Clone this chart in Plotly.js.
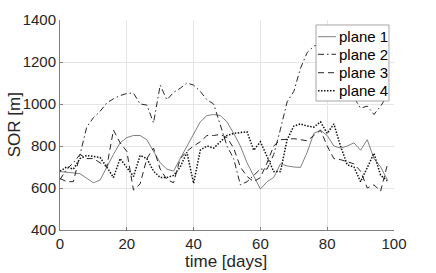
<!DOCTYPE html>
<html>
<head>
<meta charset="utf-8">
<script src="https://cdn.plot.ly/plotly-3.0.1.min.js"></script>
<style>html,body{margin:0;padding:0;background:#fff;}#chart{width:436px;height:273px;}</style>
</head>
<body>
<div id="chart"></div>
<script>
const days = [0,2,4,6,8,10,12,14,16,18,20,22,24,26,28,30,32,34,36,38,40,42,44,46,48,50,52,54,56,58,60,62,64,66,68,70,72,74,76,78,80,82,84,86,88,90,92,94,96,98];
const plane1 = [678,676,672,668,648,625,638,700,760,815,840,850,850,830,775,720,690,680,740,800,860,915,945,950,945,915,860,800,720,660,595,630,650,715,705,700,698,770,860,875,850,800,790,800,815,780,830,740,700,640];
const plane2 = [640,690,720,760,890,935,965,1005,1025,1040,1050,1052,1000,995,910,1090,1020,1055,1075,1100,1090,1060,1020,1000,900,800,740,615,630,660,690,690,760,880,1010,1060,1170,1245,1275,1290,1310,1270,1200,1100,1030,980,990,950,990,1040];
const plane3 = [645,630,630,760,740,740,720,700,876,815,775,590,620,740,790,690,640,625,740,775,800,820,850,850,855,840,790,700,655,630,650,720,800,830,832,835,830,825,850,875,800,740,735,725,715,680,600,615,585,710];
const plane4 = [680,700,690,740,755,750,745,700,650,740,700,655,755,740,680,650,650,660,700,770,622,780,800,790,820,850,860,865,868,780,820,750,678,678,830,895,905,895,890,915,860,905,800,710,700,630,700,765,660,635];
const names = ['plane 1','plane 2','plane 3','plane 4'];
const xTicks = [0,20,40,60,80,100];
const yTicks = [400,600,800,1000,1200,1400];
const xTitle = 'time [days]';
const yTitle = 'SOR [m]';

const series = [plane1, plane2, plane3, plane4];
const styles = [
  {color:'#808080', width:1, dash:'solid'},
  {color:'#262626', width:1, dash:'6px,3px,1.5px,3px'},
  {color:'#262626', width:1, dash:'6px,4px'},
  {color:'#111111', width:1.5, dash:'1.5px,1.5px'}
];
const traces = series.map((s,i)=>({
  x: days, y: s, name: names[i], type:'scatter', mode:'lines',
  line: styles[i], showlegend:false
}));

const fam = '"Liberation Sans", Arial, sans-serif';
const txt = '#262626';

// custom legend (paper coords)
const legX0 = 0.7665, legX1 = 0.985, legY0 = 0.6143, legY1 = 0.9762;
const rowY = [0.9205, 0.8367, 0.749, 0.6633];
const shapes = [{type:'rect', xref:'paper', yref:'paper', x0:legX0, x1:legX1, y0:legY0, y1:legY1,
  fillcolor:'#fff', line:{color:'#a6a6a6', width:1}, layer:'above'}];
const annotations = [];
names.forEach((n,i)=>{
  shapes.push({type:'line', xref:'paper', yref:'paper', x0:0.7725, x1:0.8263, y0:rowY[i], y1:rowY[i],
    line:{color:styles[i].color, width:styles[i].width, dash:styles[i].dash}, layer:'above'});
  annotations.push({xref:'paper', yref:'paper', x:0.829, y:rowY[i], xanchor:'left', yanchor:'middle',
    text:n, showarrow:false, font:{family:fam, size:15, color:'#000'}});
});
annotations.push({xref:'paper', yref:'paper', x:-0.137, y:0.5, xanchor:'center', yanchor:'middle', textangle:-90,
  text:yTitle, showarrow:false, font:{family:fam, size:17, color:txt}});
annotations.push({xref:'paper', yref:'paper', x:0.497, y:-0.152, xanchor:'center', yanchor:'middle',
  text:xTitle, showarrow:false, font:{family:fam, size:17, color:txt}});

const layout = {
  width:436, height:273,
  margin:{l:60, r:42, t:20, b:43},
  paper_bgcolor:'#fff', plot_bgcolor:'#fff',
  font: {family:fam, size:15, color:txt},
  showlegend:false,
  shapes: shapes,
  annotations: annotations,
  xaxis:{range:[0,100], tickvals:xTicks, ticktext:xTicks.map(String), showgrid:true, gridcolor:'#e5e5e5',
    showline:true, linecolor:'#808080', linewidth:1, ticks:'inside', ticklen:3, tickcolor:'#808080', zeroline:false,
    tickfont:{family:fam, size:15, color:txt}, automargin:false},
  yaxis:{range:[400,1400], tickvals:yTicks, ticktext:yTicks.map(String), showgrid:true, gridcolor:'#e5e5e5',
    showline:true, linecolor:'#808080', linewidth:1, ticks:'inside', ticklen:3, tickcolor:'#808080', zeroline:false,
    tickfont:{family:fam, size:15, color:txt}, automargin:false}
};
Plotly.newPlot('chart', traces, layout, {staticPlot:true, displayModeBar:false});
</script>
</body>
</html>
